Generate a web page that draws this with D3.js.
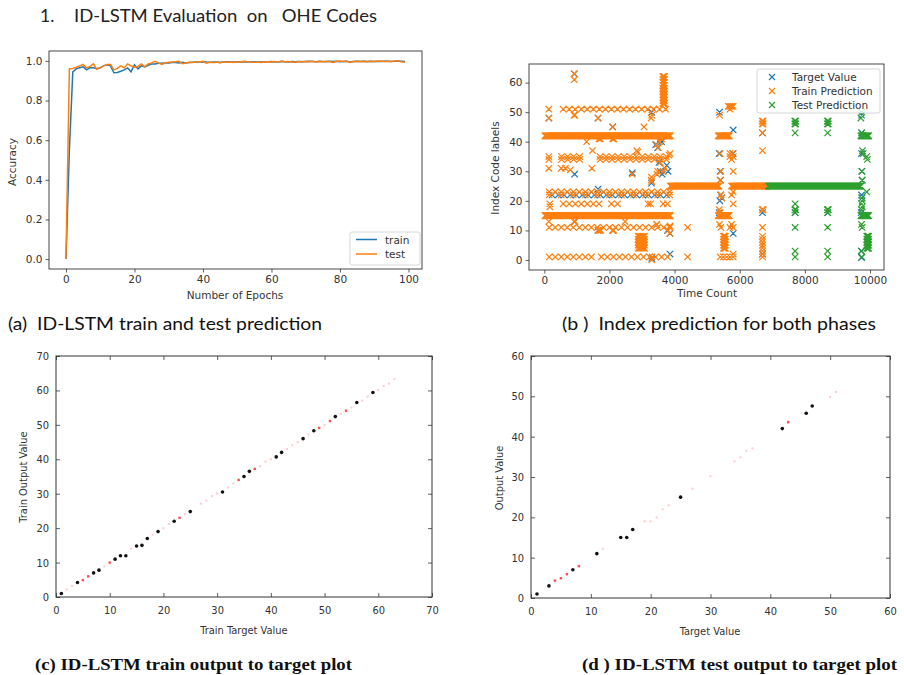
<!DOCTYPE html>
<html>
<head>
<meta charset="utf-8">
<script src="https://cdn.jsdelivr.net/npm/d3@7"></script>
<style>
  body { margin: 0; background: #fff; }
  svg { display: block; }
  text { white-space: pre; }
</style>
</head>
<body>
<svg id="fig" width="904" height="675"></svg>
<script>
// ---- (a) accuracy per epoch ----
const trainAcc = [
  0.00, 0.55, 0.945, 0.96, 0.965, 0.97, 0.955, 0.965, 0.965, 0.96,
  0.965, 0.975, 0.98, 0.975, 0.94, 0.942, 0.948, 0.955, 0.965, 0.945,
  0.98, 0.96, 0.975, 0.97, 0.978, 0.985, 0.985, 0.988, 0.988, 0.99,
  0.99, 0.992, 0.992, 0.99, 0.993, 0.99, 0.992, 0.993, 0.994, 0.995,
  0.996, 0.994, 0.993, 0.995, 0.994, 0.993, 0.995, 0.996, 0.994, 0.995,
  0.996, 0.995, 0.996, 0.994, 0.995, 0.996, 0.995, 0.994, 0.995, 0.996,
  0.997, 0.994, 0.996, 0.997, 0.996, 0.995, 0.997, 0.996, 0.997, 0.996,
  0.997, 0.998, 0.997, 0.996, 0.998, 0.997, 0.996, 0.998, 0.997, 0.998,
  0.996, 0.997, 0.998, 0.995, 0.997, 0.998, 0.997, 0.998, 0.997, 0.998,
  0.997, 0.998, 0.997, 0.998, 0.998, 0.997, 0.998, 0.999, 0.998, 0.997
];
const testAcc = [
  0.00, 0.96, 0.962, 0.968, 0.975, 0.982, 0.965, 0.972, 0.985, 0.958,
  0.965, 0.975, 0.982, 0.982, 0.955, 0.962, 0.975, 0.965, 0.985, 0.975,
  0.968, 0.972, 0.985, 0.97, 0.985, 0.99, 0.998, 0.99, 0.982, 0.99,
  0.993, 0.995, 0.996, 0.998, 0.986, 0.99, 0.993, 0.992, 0.994, 0.996,
  0.998, 0.988, 0.993, 0.992, 0.994, 0.99, 0.996, 0.993, 0.995, 0.992,
  0.996, 0.993, 0.998, 0.996, 0.994, 0.993, 0.995, 0.992, 0.994, 0.996,
  0.995, 0.997, 0.994, 0.999, 0.996, 0.997, 0.995, 0.993, 0.997, 0.996,
  0.997, 0.996, 0.998, 0.994, 0.997, 0.996, 0.998, 0.997, 0.992, 0.998,
  0.999, 0.997, 0.998, 0.992, 0.997, 0.998, 0.997, 0.998, 0.996, 0.998,
  0.997, 0.998, 0.999, 0.997, 0.998, 0.997, 0.999, 1.0, 0.996, 0.993
];
const accXTicks = [0, 20, 40, 60, 80, 100];
const accYTicks = [0, 0.2, 0.4, 0.6, 0.8, 1.0];

// ---- (b) index prediction, runs: [value, tStart, tEnd, step] or [value, t] ----
const targetRuns = [
  [63, 920], [59, 3660], [62, 3660], [48, 140], [48, 1650], [50, 3300], [45, 2100],
  [39, 3420], [38, 3480], [40, 3600], [41, 3560], [33, 3520], [30, 3560], [29, 3620],
  [32, 3760], [30, 3800], [29, 930], [29.5, 2700], [26, 3290],
  [22, 240, 3860, 185], [24, 1650],
  [13, 930], [10, 1650], [10, 2100], [10, 3780], [9, 3860], [0.5, 3300], [2, 3860],
  [50, 5380], [44, 5800], [36, 5370], [30, 5400], [27, 5410], [22, 5420], [21, 5450],
  [20, 5390], [16, 5370], [9, 5800], [36, 5800],
  [43, 6700], [16, 6700], [2, 6700],
  [16, 7700], [16, 8700], [43, 9740], [36, 9740], [30, 9750], [27, 9760], [22, 9740],
  [21, 9760], [16, 9730], [3, 9730], [0.8, 9740], [49, 9740]
];
const trainRuns = [
  [42, 20, 3875, 10], [15, 20, 3875, 10],
  [25, 3870, 5360, 10], [25, 5750, 6860, 10],
  [42, 5340, 5680, 10], [15, 5340, 5680, 10],
  [51, 140], [51, 580, 3860, 185],
  [35, 140], [34, 140], [35, 530, 1100, 185], [34, 530, 1100, 185],
  [35, 1710, 3860, 185], [34, 1710, 3860, 185],
  [23, 150, 3860, 185], [22, 150, 3860, 370],
  [19, 170], [18, 170], [19, 580, 1520, 185], [19, 1680], [19, 2060, 2400, 185],
  [19, 3190, 3260, 70], [19, 3650, 3780, 130],
  [11, 150, 3860, 185], [12, 3450],
  [1, 150, 1500, 185], [1, 1750, 3860, 185],
  [63, 920], [61, 920], [49, 910], [49, 940],
  [53, 3640, 3690, 10], [54, 3640, 3690, 10], [55, 3640, 3690, 10], [56, 3640, 3690, 10],
  [57, 3640, 3690, 10], [58, 3640, 3690, 10], [59, 3640, 3690, 10], [60, 3640, 3690, 10],
  [61, 3640, 3690, 10], [62, 3640, 3690, 10],
  [48, 140], [48, 1650], [48, 3280], [49, 3300], [45, 3060], [45, 2100],
  [40, 1300], [41, 1680], [41, 1720], [41, 2100], [41, 2130], [39, 3450], [40, 3540],
  [41, 3600], [38, 3500], [37, 1480], [37, 2840], [36.5, 2870],
  [31, 140], [31, 520], [31, 650], [30.5, 800], [31, 1460], [31, 3700], [33, 3560],
  [30, 3480], [36, 3860], [35.5, 3830], [29, 2700], [29, 3460], [30, 3650],
  [27, 3280], [28, 3290], [26.5, 3300],
  [13, 140], [13, 920], [13, 940], [13, 2480],
  [10, 1650], [10, 1700], [10, 1740], [10, 2100], [10, 2130],
  [12, 3460], [10, 3800], [9, 3850], [11.5, 3860], [0, 3300], [1, 3310],
  [4, 2880, 3100, 40], [5, 2880, 3100, 40], [6, 2880, 3100, 40], [7, 2880, 3100, 40], [8, 2880, 3100, 40],
  [11, 4400], [1, 4400],
  [49, 5380], [36, 5400], [30, 5420], [27, 5400], [22, 5420], [21, 5450], [17, 5370],
  [16, 5400], [12, 5380], [11, 5420], [1, 5400, 5800, 100],
  [4, 5500, 5560, 10], [5, 5500, 5560, 10], [6, 5500, 5560, 10], [7, 5500, 5560, 10], [8, 5500, 5560, 10],
  [52, 5650, 5800, 50], [51, 5700],
  [36, 5700], [35, 5700], [34, 5750], [35, 5800], [36, 5780], [30, 5800], [22, 5750],
  [23, 5800], [19, 5800], [11, 5700], [11, 5800], [12, 5750], [2, 5800],
  [47, 6690, 6720, 15], [46, 6690, 6720, 15], [43, 6700], [37, 6700], [17, 6690, 6720, 15],
  [11, 6700], [2, 6700], [3, 6700], [4, 6700], [5, 6700], [6, 6700], [7, 6700], [8, 6700], [1, 6700]
];
const testRuns = [
  [25, 6880, 9720, 10],
  [47, 7690, 7720, 15], [46, 7690, 7720, 15], [43, 7700], [19, 7700], [17, 7690, 7720, 15],
  [16, 7700], [11, 7700], [3, 7700], [1, 7700],
  [47, 8690, 8720, 15], [46, 8690, 8720, 15], [43, 8700], [17, 8690, 8720, 15],
  [16, 8700], [11, 8700], [3, 8700], [1, 8700],
  [50, 9750], [48, 9720], [43, 9750], [42, 9720, 9960, 10], [37, 9770], [36, 9790],
  [35, 9900], [34, 9920], [30, 9750], [27, 9760], [23, 9900], [21, 9740], [20, 9760],
  [19, 9740], [18, 9760], [17, 9740], [15, 9720, 9960, 10], [12, 9740], [11, 9760],
  [3, 9740], [1, 9750],
  [4, 9900, 9960, 10], [5, 9900, 9960, 10], [6, 9900, 9960, 10], [7, 9900, 9960, 10], [8, 9900, 9960, 10]
];
const idxXTicks = [0, 2000, 4000, 6000, 8000, 10000];
const idxYTicks = [0, 10, 20, 30, 40, 50, 60];
const idxLegend = ['Target Value', 'Train Prediction', 'Test Prediction'];

// ---- (c) train output vs target ----
const trainTargetBlack = [1, 4, 7, 8, 11, 12, 13, 15, 16, 17, 19, 22, 25, 31, 35, 36, 41, 42, 46, 48, 52, 56, 59];
const trainOutputBlack = [1, 4.2, 7, 7.8, 11, 12, 12, 14.8, 15, 17, 19, 22, 24.8, 30.5, 35, 36.5, 40.7, 42, 46, 48.3, 52.4, 56.5, 59.4];
const trainTargetRed = [5, 6, 10, 23, 34, 37, 49, 51, 54];
const trainOutputRed = [4.9, 6.0, 10.0, 23.0, 34.0, 37.2, 49.1, 51.1, 54.1];
const trainTargetPink = [2, 3, 9, 14, 18, 20, 21, 24, 27, 28, 29, 30, 32, 33, 38, 39, 40, 43, 44, 45, 47, 50, 53, 55, 57, 58, 60, 61, 62, 63];
const trainOutputPink = [2.2, 3.2, 8.9, 14.0, 18.1, 20.0, 21.2, 24.0, 27.1, 28.0, 29.3, 30.1, 31.8, 33.0, 38.0, 39.3, 40.0, 43.0, 44.1, 45.0, 47.2, 50.0, 53.2, 55.0, 57.0, 58.2, 60.1, 61.3, 62.0, 63.3];

// ---- (d) test output vs target ----
const testTargetBlack = [1, 3, 7, 11, 15, 16, 17, 25, 42, 46, 47];
const testOutputBlack = [1, 3, 7, 11, 15, 15, 17, 25, 42, 45.8, 47.6];
const testTargetRed = [4, 5, 6, 8, 43];
const testOutputRed = [4.3, 4.9, 5.9, 7.9, 43.6];
const testTargetPink = [12, 19, 20, 21, 22, 23, 27, 30, 34, 35, 36, 37, 50, 51];
const testOutputPink = [12.2, 19, 19, 20, 22, 23, 27.1, 30.2, 33.9, 34.9, 36.5, 37.1, 49.8, 51.1];

const COLORS = { blue: '#1f77b4', orange: '#ff7f0e', green: '#2ca02c' };
const MPL_FONT = "'DejaVu Sans', sans-serif";
const GP_FONT = "'Liberation Sans Narrow', 'DejaVu Sans Condensed', 'Liberation Sans', sans-serif";
const CAP_FONT = "Lato, 'Open Sans', sans-serif";

const svg = d3.select('#fig');

function StyleAxis(sel, font, size) {
  sel.select('.domain').remove();
  sel.selectAll('text').attr('font-family', font).attr('font-size', size).attr('fill', '#333');
  sel.selectAll('line').attr('stroke', '#333').attr('stroke-width', 0.8);
}

function Frame(g, x, y, width) {
  const [x0, x1] = x.range();
  const [yb, yt] = y.range();
  g.append('rect')
    .attr('x', x0).attr('y', yt)
    .attr('width', x1 - x0).attr('height', yb - yt)
    .attr('fill', 'none').attr('stroke', '#333').attr('stroke-width', width);
}

function MplAxes(g, x, y, xt, yt, yfmt) {
  const [yb] = y.range();
  const [x0] = x.range();
  g.append('g').attr('transform', `translate(0,${yb})`)
    .call(d3.axisBottom(x).tickValues(xt).tickSize(3.5).tickPadding(3).tickFormat(d3.format('d')))
    .call(s => StyleAxis(s, MPL_FONT, 10.5));
  g.append('g').attr('transform', `translate(${x0},0)`)
    .call(d3.axisLeft(y).tickValues(yt).tickSize(3.5).tickPadding(3).tickFormat(yfmt))
    .call(s => StyleAxis(s, MPL_FONT, 10.5));
  Frame(g, x, y, 0.9);
}

function GnuplotAxes(g, x, y, ticks) {
  const [x0, x1] = x.range();
  const [yb, yt] = y.range();
  g.append('g').attr('transform', `translate(0,${yb})`)
    .call(d3.axisBottom(x).tickValues(ticks).tickSize(-4).tickPadding(9))
    .call(s => StyleAxis(s, GP_FONT, 11));
  g.append('g').attr('transform', `translate(0,${yt})`)
    .call(d3.axisTop(x).tickValues(ticks).tickSize(-4).tickFormat(''))
    .call(s => StyleAxis(s, GP_FONT, 11));
  g.append('g').attr('transform', `translate(${x0},0)`)
    .call(d3.axisLeft(y).tickValues(ticks).tickSize(-4).tickPadding(7))
    .call(s => StyleAxis(s, GP_FONT, 11));
  g.append('g').attr('transform', `translate(${x1},0)`)
    .call(d3.axisRight(y).tickValues(ticks).tickSize(-4).tickFormat(''))
    .call(s => StyleAxis(s, GP_FONT, 11));
  Frame(g, x, y, 1);
}

function AxisLabel(g, txt, x, y, rotate, font, size) {
  g.append('text')
    .attr('transform', `translate(${x},${y})` + (rotate ? ' rotate(-90)' : ''))
    .attr('text-anchor', 'middle')
    .attr('dominant-baseline', 'central')
    .attr('font-family', font).attr('font-size', size).attr('fill', '#333')
    .text(txt);
}

function Expand(runs) {
  const pts = [];
  runs.forEach(r => {
    if (r.length === 2) { pts.push({ v: r[0], t: r[1] }); return; }
    for (let t = r[1]; t <= r[2]; t += r[3]) pts.push({ v: r[0], t: t });
  });
  return pts;
}

function XMarks(points, x, y, r) {
  return points.map(p => {
    const cx = x(p.t), cy = y(p.v);
    return `M${cx - r},${cy - r}L${cx + r},${cy + r}M${cx - r},${cy + r}L${cx + r},${cy - r}`;
  }).join('');
}

// ---- titles and captions ----
svg.append('text').attr('x', 40).attr('y', 22)
  .attr('font-family', CAP_FONT).attr('font-size', 17.5).attr('fill', '#222').text('1.');
svg.append('text').attr('x', 74).attr('y', 22)
  .attr('font-family', CAP_FONT).attr('font-size', 17.5).attr('fill', '#222')
  .attr('textLength', 303).attr('lengthAdjust', 'spacingAndGlyphs')
  .text('ID-LSTM Evaluation  on   OHE Codes');

const capsTop = [['(a)  ID-LSTM train and test prediction', 8, 314], ['(b )  Index prediction for both phases', 562, 314]];
capsTop.forEach(c => {
  svg.append('text').attr('x', c[1]).attr('y', 330)
    .attr('font-family', CAP_FONT).attr('font-size', 17.5).attr('fill', '#111')
    .attr('textLength', c[2]).attr('lengthAdjust', 'spacingAndGlyphs').text(c[0]);
});
const capsBottom = [['(c) ID-LSTM train output to target plot', 35, 317], ['(d ) ID-LSTM test output to target plot', 582, 315]];
capsBottom.forEach(c => {
  svg.append('text').attr('x', c[1]).attr('y', 670)
    .attr('font-family', "'Liberation Serif', serif").attr('font-weight', 'bold')
    .attr('font-size', 16.5).attr('fill', '#111')
    .attr('textLength', c[2]).attr('lengthAdjust', 'spacingAndGlyphs').text(c[0]);
});

// ---- (a) ----
{
  const g = svg.append('g');
  const x = d3.scaleLinear([-4.95, 103.95], [49, 422]);
  const y = d3.scaleLinear([-0.05, 1.05], [269, 51]);
  const line = d3.line().x((d, i) => x(i)).y(d => y(d));
  g.append('path').attr('d', line(trainAcc)).attr('fill', 'none')
    .attr('stroke', COLORS.blue).attr('stroke-width', 1.5);
  g.append('path').attr('d', line(testAcc)).attr('fill', 'none')
    .attr('stroke', COLORS.orange).attr('stroke-width', 1.5);
  MplAxes(g, x, y, accXTicks, accYTicks, d3.format('.1f'));
  AxisLabel(g, 'Accuracy', 12, 162, true, MPL_FONT, 10.5);
  AxisLabel(g, 'Number of Epochs', 235, 295, false, MPL_FONT, 10.5);

  const lg = g.append('g');
  lg.append('rect').attr('x', 350).attr('y', 232).attr('width', 70).attr('height', 33).attr('rx', 2)
    .attr('fill', '#fff').attr('stroke', '#ccc').attr('stroke-width', 0.8);
  [['train', COLORS.blue, 239.5], ['test', COLORS.orange, 254]].forEach(e => {
    lg.append('line').attr('x1', 356).attr('x2', 377).attr('y1', e[2]).attr('y2', e[2])
      .attr('stroke', e[1]).attr('stroke-width', 1.5);
    lg.append('text').attr('x', 385).attr('y', e[2]).attr('dominant-baseline', 'central')
      .attr('font-family', MPL_FONT).attr('font-size', 10.5).attr('fill', '#333').text(e[0]);
  });
}

// ---- (b) ----
{
  const g = svg.append('g');
  const x = d3.scaleLinear([-470, 10430], [529, 884]);
  const y = d3.scaleLinear([-3.4, 66.3], [270, 64]);
  const series = [[targetRuns, COLORS.blue], [trainRuns, COLORS.orange], [testRuns, COLORS.green]];
  series.forEach(s => {
    g.append('path').attr('d', XMarks(Expand(s[0]), x, y, 3.2))
      .attr('fill', 'none').attr('stroke', s[1]).attr('stroke-width', 1.2);
  });
  MplAxes(g, x, y, idxXTicks, idxYTicks, d3.format('d'));
  AxisLabel(g, 'Index Code labels', 495, 168, true, MPL_FONT, 10.5);
  AxisLabel(g, 'Time Count', 707, 293, false, MPL_FONT, 10.5);

  const lg = g.append('g');
  lg.append('rect').attr('x', 757).attr('y', 69).attr('width', 123).attr('height', 44).attr('rx', 2)
    .attr('fill', '#fff').attr('fill-opacity', 0.8).attr('stroke', '#ccc').attr('stroke-width', 0.8);
  idxLegend.forEach((name, i) => {
    const ly = 77 + i * 14;
    const col = series[i][1];
    lg.append('path').attr('d', `M769,${ly - 3}L775,${ly + 3}M769,${ly + 3}L775,${ly - 3}`)
      .attr('stroke', col).attr('stroke-width', 1.2);
    lg.append('text').attr('x', 792).attr('y', ly).attr('dominant-baseline', 'central')
      .attr('font-family', MPL_FONT).attr('font-size', 10.5).attr('fill', '#333').text(name);
  });
}

// ---- (c) & (d) ----
function OutputPanel(cfg) {
  const g = svg.append('g');
  const x = d3.scaleLinear([0, cfg.max], cfg.xr);
  const y = d3.scaleLinear([0, cfg.max], cfg.yr);
  const ticks = d3.range(0, cfg.max + 1, 10);
  GnuplotAxes(g, x, y, ticks);
  g.selectAll('.pink').data(cfg.pinkT).join('rect').attr('class', 'pink')
    .attr('x', d => x(d) - 1).attr('y', (d, i) => y(cfg.pinkO[i]) - 1)
    .attr('width', 2).attr('height', 2).attr('fill', '#ff3030').attr('fill-opacity', 0.25);
  g.selectAll('.red').data(cfg.redT).join('rect').attr('class', 'red')
    .attr('x', d => x(d) - 1.2).attr('y', (d, i) => y(cfg.redO[i]) - 1.2)
    .attr('width', 2.4).attr('height', 2.4).attr('fill', '#ff2020').attr('fill-opacity', 0.8);
  g.selectAll('.blk').data(cfg.blackT).join('circle').attr('class', 'blk')
    .attr('cx', d => x(d)).attr('cy', (d, i) => y(cfg.blackO[i]))
    .attr('r', 1.8).attr('fill', '#111');
  AxisLabel(g, cfg.xlabel, cfg.xlab[0], cfg.xlab[1], false, GP_FONT, 11);
  AxisLabel(g, cfg.ylabel, cfg.ylab[0], cfg.ylab[1], true, GP_FONT, 11);
}

OutputPanel({
  max: 70, xr: [56, 432], yr: [597, 356],
  blackT: trainTargetBlack, blackO: trainOutputBlack,
  redT: trainTargetRed, redO: trainOutputRed,
  pinkT: trainTargetPink, pinkO: trainOutputPink,
  xlabel: 'Train Target Value', xlab: [244, 630],
  ylabel: 'Train Output Value', ylab: [23, 477]
});
OutputPanel({
  max: 60, xr: [531, 890], yr: [598, 356],
  blackT: testTargetBlack, blackO: testOutputBlack,
  redT: testTargetRed, redO: testOutputRed,
  pinkT: testTargetPink, pinkO: testOutputPink,
  xlabel: 'Target Value', xlab: [710, 631],
  ylabel: 'Output Value', ylab: [499, 478]
});
</script>
</body>
</html>
